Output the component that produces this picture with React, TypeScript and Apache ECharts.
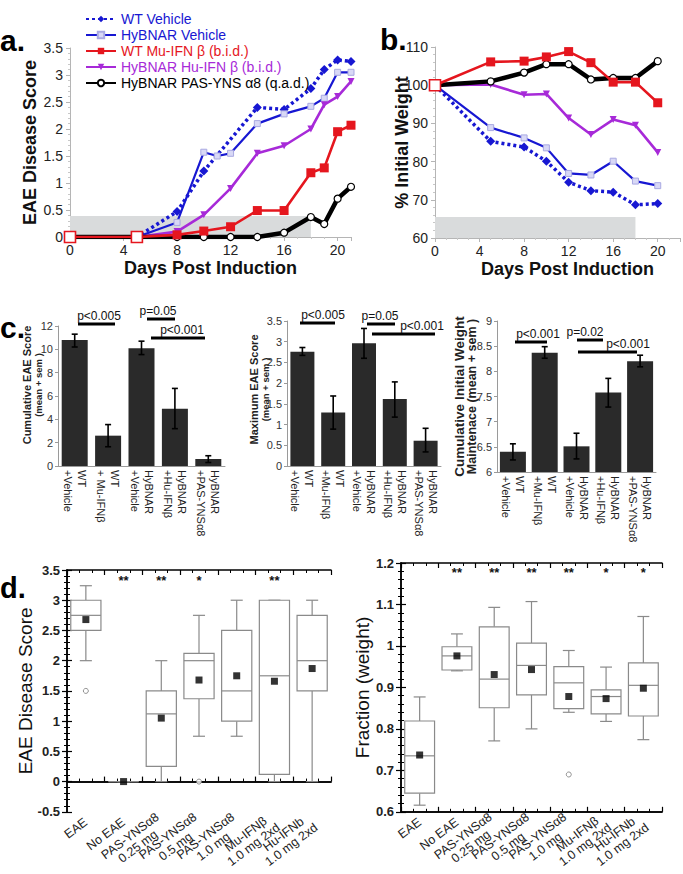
import React, { useEffect, useRef } from 'react';
import * as echarts from 'echarts';

const FONT = '"Liberation Sans", Arial, Helvetica, sans-serif';
const BLUE = '#1717d2';
const RED = '#e5161e';
const PURPLE = '#a72ad8';
const BAR = '#2a2a2a';

// ---------- Panel a: EAE disease score ----------
const legendNames = [
  'WT Vehicle',
  'HyBNAR Vehicle',
  'WT Mu-IFN β (b.i.d.)',
  'HyBNAR Hu-IFN β (b.i.d.)',
  'HyBNAR PAS-YNS α8 (q.a.d.)',
];
const aWTVehicle = [[0, 0], [5, 0], [8, 0.47], [10, 1.22], [14, 2.4], [16, 2.36], [18, 2.75], [19, 3.1], [20, 3.28], [21, 3.25]];
const aHyVehicle = [[0, 0], [5, 0], [8, 0.27], [10, 1.57], [11, 1.5], [12, 1.55], [14, 2.1], [16, 2.28], [18, 2.42], [19, 2.57], [20, 3.05], [21, 3.05]];
const aWTMu = [[0, 0], [5, 0], [8, 0.04], [10, 0.11], [12, 0.19], [14, 0.49], [16, 0.49], [18, 1.19], [19, 1.28], [20, 1.95], [21, 2.07]];
const aHyHu = [[0, 0], [5, 0], [8, 0.1], [10, 0.41], [12, 0.9], [14, 1.55], [16, 1.69], [18, 2.0], [19, 2.45], [20, 2.6], [21, 2.88]];
const aPAS = [[0, 0], [5, 0], [8, 0], [10, 0], [12, 0], [14, 0], [16, 0.08], [18, 0.37], [19, 0.24], [20, 0.71], [21, 0.93]];
const aShade = [[0, 0], [18, 0.39]];

// ---------- Panel b: % initial weight ----------
const bDays = [0, 5, 8, 10, 12, 14, 16, 18, 20];
const bWTVehicle = [100, 85.3, 83.8, 80.1, 74.6, 72.4, 72.0, 68.7, 69.0];
const bHyVehicle = [100, 88.9, 86.2, 83.6, 76.9, 76.5, 80.1, 74.9, 73.7];
const bWTMu = [100, 106.1, 106.3, 107.4, 108.8, 105.9, 100.8, 100.8, 95.4];
const bHyHu = [100, 100.2, 97.5, 97.7, 91.4, 87.1, 91.0, 89.5, 82.4];
const bPAS = [100, 101.0, 103.3, 105.5, 105.5, 101.5, 101.9, 101.9, 106.3];
const bShade = [[0, 60], [18, 65.5]];

// ---------- Panel c: bar charts ----------
const cCatsL = ['WT\n+Vehicle', 'WT\n+ Mu-IFNβ', 'HyBNAR\n+Vehicle', 'HyBNAR\n+Hu-IFNβ', 'HyBNAR\n+PAS-YNSα8'];
const cCatsR = ['WT\n+Vehicle', 'WT\n+Mu-IFNβ', 'HyBNAR\n+Vehicle', 'HyBNAR\n+Hu-IFNβ', 'HyBNAR\n+PAS-YNSα8'];
const cCumMean = [10.8, 2.6, 10.1, 4.9, 0.6];
const cCumLow = [10.2, 1.65, 9.55, 3.2, 0.3];
const cCumHigh = [11.3, 3.55, 10.7, 6.65, 0.88];
const cMaxMean = [2.76, 1.29, 2.96, 1.62, 0.61];
const cMaxLow = [2.67, 0.89, 2.6, 1.18, 0.34];
const cMaxHigh = [2.86, 1.69, 3.32, 2.03, 0.91];
const cWtMean = [6.4, 8.37, 6.51, 7.58, 8.2];
const cWtLow = [6.24, 8.26, 6.26, 7.29, 8.09];
const cWtHigh = [6.56, 8.49, 6.77, 7.86, 8.32];

// ---------- Panel d: box plots ----------
const dCats = ['EAE', 'No EAE', 'PAS-YNSα8\n0.25 mg', 'PAS-YNSα8\n0.5 mg', 'PAS-YNSα8\n1.0 mg', 'Mu-IFNβ\n1.0 mg 2xd', 'Hu-IFNb\n1.0 mg 2xd'];
// [low whisker, Q1, median, Q3, high whisker]
const dScoreBox = [
  [2.0, 2.5, 2.75, 3.0, 3.24],
  [0, 0, 0, 0, 0],
  [0, 0.25, 1.12, 1.5, 2.0],
  [0.75, 1.37, 2.0, 2.12, 2.75],
  [0.75, 1.0, 1.5, 2.5, 3.0],
  [0, 0.12, 1.75, 3.0, 3.0],
  [0, 1.5, 2.0, 2.75, 3.0],
];
const dScoreMean = [2.68, 0, 1.05, 1.68, 1.75, 1.66, 1.87];
const dScoreOutliers = [[0, 1.5], [3, 0]];
const dScoreStars = ['', '**', '**', '*', '', '**', ''];
const dWeightBox = [
  [0.616, 0.645, 0.735, 0.819, 0.877],
  [0.94, 0.942, 0.976, 0.998, 1.029],
  [0.771, 0.851, 0.92, 1.046, 1.093],
  [0.8, 0.882, 0.953, 1.007, 1.107],
  [0.84, 0.849, 0.911, 0.95, 0.989],
  [0.818, 0.836, 0.878, 0.894, 0.949],
  [0.774, 0.831, 0.905, 0.959, 1.071],
];
const dWeightMean = [0.737, 0.976, 0.931, 0.943, 0.878, 0.873, 0.898];
const dWeightOutliers = [[4, 0.69]];
const dWeightStars = ['', '**', '**', '**', '**', '*', '*'];

// ---------- helpers ----------
const styles = [
  { symbol: 'diamond', symbolSize: 9, line: { color: BLUE, width: 3.5, type: [3, 3] }, item: { color: BLUE }, z: 3 },
  { symbol: 'rect', symbolSize: 6, line: { color: BLUE, width: 2.2, type: 'solid' }, item: { color: '#d8d8f6', borderColor: '#a9a9e2', borderWidth: 1 }, z: 3 },
  { symbol: 'rect', symbolSize: 9, line: { color: RED, width: 2.6, type: 'solid' }, item: { color: RED }, z: 6 },
  { symbol: 'triangle', symbolSize: 7, symbolRotate: 180, line: { color: PURPLE, width: 2.6, type: 'solid' }, item: { color: PURPLE }, z: 3 },
  { symbol: 'circle', symbolSize: 7, line: { color: '#000', width: 4.5, type: 'solid' }, item: { color: '#fff', borderColor: '#000', borderWidth: 1.2 }, z: 4 },
];

const openRed = { symbolSize: 11, itemStyle: { color: '#fff', borderColor: RED, borderWidth: 1.6 } };

function lineSeries(idx: number, data: any[], axis: number, openCount: number) {
  const s = styles[idx];
  const d = data.map((p, i) => (idx === 2 && i < openCount ? { value: p, ...openRed } : p));
  return {
    type: 'line',
    name: legendNames[idx],
    xAxisIndex: axis,
    yAxisIndex: axis,
    data: d,
    symbol: s.symbol,
    symbolSize: s.symbolSize,
    symbolRotate: (s as any).symbolRotate || 0,
    showAllSymbol: true,
    lineStyle: s.line,
    itemStyle: s.item,
    z: s.z,
    color: s.line.color,
  };
}

function shadeSeries(pts: number[][], axis: number) {
  return {
    type: 'line',
    xAxisIndex: axis,
    yAxisIndex: axis,
    data: pts,
    symbol: 'none',
    lineStyle: { opacity: 0 },
    silent: true,
    z: 1,
    markArea: {
      silent: true,
      itemStyle: { color: '#d9dbdc' },
      data: [[{ coord: pts[0] }, { coord: pts[1] }]],
    },
  };
}

const grayAxisLine = { show: true, lineStyle: { color: '#b5b5b5', width: 1 } };
const grayTick = { show: true, length: 4, lineStyle: { color: '#b5b5b5' } };

function lineXAxis(grid: number, max: number, nameExtra: any) {
  return {
    type: 'value', gridIndex: grid, min: 0, max, interval: 4,
    axisLine: grayAxisLine, axisTick: grayTick,
    minorTick: { show: true, splitNumber: 4, length: 2, lineStyle: { color: '#c8c8c8' } },
    splitLine: { show: false },
    axisLabel: { color: '#222', fontSize: 14, fontFamily: FONT, margin: 6, formatter: (v: number) => (v % 4 === 0 ? String(v) : '') },
    name: 'Days Post Induction', nameLocation: 'middle', nameGap: 22, nameMoveOverlap: false,
    nameTextStyle: { fontSize: 18, fontWeight: 'bold', color: '#111', fontFamily: FONT, ...nameExtra },
  };
}

function lineYAxis(grid: number, min: number, max: number, interval: number, name: string, gap: number) {
  return {
    type: 'value', gridIndex: grid, min, max, interval,
    axisLine: grayAxisLine, axisTick: grayTick,
    minorTick: { show: true, splitNumber: 5, length: 2, lineStyle: { color: '#c8c8c8' } },
    splitLine: { show: false },
    axisLabel: { color: '#222', fontSize: 14, fontFamily: FONT, margin: 7 },
    name, nameLocation: 'middle', nameGap: gap, nameRotate: 90, nameMoveOverlap: false,
    nameTextStyle: { fontSize: 18, fontWeight: 'bold', color: '#111', fontFamily: FONT },
  };
}

function barXAxis(grid: number, cats: string[]) {
  return {
    type: 'category', gridIndex: grid, data: cats,
    axisLine: { show: true, lineStyle: { color: '#9a9a9a' } },
    axisTick: { show: false },
    axisLabel: { rotate: -90, fontSize: 11, lineHeight: 14, color: '#222', fontFamily: FONT, margin: 4, interval: 0 },
  };
}

function barYAxis(grid: number, min: number, max: number, interval: number, line1: string, line2: string, s1: number, s2: number, lh1: number, lh2: number, gap: number, shift: number) {
  return {
    type: 'value', gridIndex: grid, min, max, interval,
    axisLine: { show: true, lineStyle: { color: '#9a9a9a' } },
    axisTick: { show: true, length: 3, lineStyle: { color: '#9a9a9a' } },
    splitLine: { show: false },
    axisLabel: { fontSize: 11, color: '#333', fontFamily: FONT, margin: 5 },
    name: `{a|${line1}}\n{b|${line2}}`, nameLocation: 'middle', nameGap: gap, nameRotate: 90, nameMoveOverlap: false,
    nameTextStyle: {
      padding: [0, 0, 0, shift],
      rich: {
        a: { fontSize: s1, fontWeight: 'bold', color: '#222', fontFamily: FONT, lineHeight: lh1 },
        b: { fontSize: s2, fontWeight: 'bold', color: '#222', fontFamily: FONT, lineHeight: lh2 },
      },
    },
  };
}

const errRender = (params: any, api: any) => {
  const x = api.value(0);
  const lo = api.coord([x, api.value(1)]);
  const hi = api.coord([x, api.value(2)]);
  const hw = 3;
  const st = { stroke: '#000', lineWidth: 1.6 };
  return {
    type: 'group',
    children: [
      { type: 'line', shape: { x1: lo[0], y1: lo[1], x2: hi[0], y2: hi[1] }, style: st },
      { type: 'line', shape: { x1: lo[0] - hw, y1: lo[1], x2: lo[0] + hw, y2: lo[1] }, style: st },
      { type: 'line', shape: { x1: hi[0] - hw, y1: hi[1], x2: hi[0] + hw, y2: hi[1] }, style: st },
    ],
  };
};

function barSeries(axis: number, mean: number[], low: number[], high: number[], width: number) {
  return [
    { type: 'bar', xAxisIndex: axis, yAxisIndex: axis, data: mean, barWidth: width, itemStyle: { color: BAR }, z: 2 },
    {
      type: 'custom', xAxisIndex: axis, yAxisIndex: axis, renderItem: errRender, z: 3,
      encode: { x: 0, y: [1, 2] },
      data: mean.map((_, i) => [i, low[i], high[i]]),
    },
  ];
}

const boxRender = (params: any, api: any) => {
  const c = api.value(0);
  const vals = [1, 2, 3, 4, 5].map((i) => api.value(i));
  const w = api.size([1, 0])[0];
  const hb = w * 0.4;
  const hc = w * 0.16;
  const p = vals.map((v) => api.coord([c, v]));
  const x = p[0][0];
  const st = { stroke: '#8a8a8a', lineWidth: 1.2, fill: 'none' };
  return {
    type: 'group',
    children: [
      { type: 'line', shape: { x1: x, y1: p[0][1], x2: x, y2: p[1][1] }, style: st },
      { type: 'line', shape: { x1: x, y1: p[3][1], x2: x, y2: p[4][1] }, style: st },
      { type: 'line', shape: { x1: x - hc, y1: p[0][1], x2: x + hc, y2: p[0][1] }, style: st },
      { type: 'line', shape: { x1: x - hc, y1: p[4][1], x2: x + hc, y2: p[4][1] }, style: st },
      { type: 'rect', shape: { x: x - hb, y: p[3][1], width: 2 * hb, height: Math.max(p[1][1] - p[3][1], 0) }, style: { stroke: '#8a8a8a', lineWidth: 1.2, fill: '#fff' } },
      { type: 'line', shape: { x1: x - hb, y1: p[2][1], x2: x + hb, y2: p[2][1] }, style: st },
    ],
  };
};

function boxSeries(xAxis: number, yAxis: number, box: number[][], mean: number[], outliers: number[][], stars: string[], starY: number) {
  return [
    {
      type: 'custom', xAxisIndex: xAxis, yAxisIndex: yAxis, renderItem: boxRender, z: 2,
      encode: { x: 0, y: [1, 2, 3, 4, 5] },
      data: box.map((b, i) => [i, ...b]),
    },
    {
      type: 'scatter', xAxisIndex: xAxis, yAxisIndex: yAxis, symbol: 'rect', symbolSize: 7, z: 4,
      itemStyle: { color: '#000' }, data: mean.map((v, i) => [i, v]),
    },
    {
      type: 'scatter', xAxisIndex: xAxis, yAxisIndex: yAxis, symbol: 'circle', symbolSize: 5, z: 4,
      itemStyle: { color: '#fff', borderColor: '#777', borderWidth: 1 }, data: outliers,
    },
    {
      type: 'custom', xAxisIndex: xAxis, yAxisIndex: yAxis, z: 5,
      encode: { x: 0, y: 1 },
      data: stars.map((_, i) => [i, starY]),
      renderItem: (params: any, api: any) => {
        const p = api.coord([api.value(0), api.value(1)]);
        return {
          type: 'text', x: p[0], y: p[1],
          style: { text: stars[params.dataIndex], textAlign: 'center', textVerticalAlign: 'middle', align: 'center', verticalAlign: 'middle', font: `bold 13px ${FONT}`, fill: '#111' },
        };
      },
    },
  ];
}

function boxCatAxis(grid: number) {
  return {
    type: 'category', gridIndex: grid, data: dCats, position: 'bottom',
    axisLine: { show: true, lineStyle: { color: '#000', width: 1.5 } },
    axisTick: { show: false },
    axisLabel: {
      rotate: 37, color: '#222', fontFamily: FONT, fontSize: 12.5, margin: 9, interval: 0,
      formatter: (v: string) => v.split('\n').map((s) => `{c|${s}}`).join('\n'),
      rich: { c: { align: 'center', fontSize: 12.5, lineHeight: 13, color: '#222', fontFamily: FONT } },
    },
  };
}

function boxTickXAxis(grid: number, pos: string) {
  return {
    type: 'value', gridIndex: grid, position: pos, min: 0, max: 7, interval: 1,
    axisLine: { show: true, lineStyle: { color: '#000', width: 1.5 } },
    axisTick: { show: true, inside: true, length: 5, lineStyle: { color: '#000', width: 1.2 } },
    minorTick: { show: true, splitNumber: 3, length: 3, lineStyle: { color: '#000', width: 1 } },
    axisLabel: { show: false },
    splitLine: { show: false },
  };
}

function boxYAxis(grid: number, min: number, max: number, interval: number, pos: string, name: string, gap: number) {
  const left = pos === 'left';
  return {
    type: 'value', gridIndex: grid, position: pos, min, max, interval,
    axisLine: { show: true, lineStyle: { color: '#000', width: 1.5 } },
    axisTick: { show: true, inside: true, length: 5, lineStyle: { color: '#000', width: 1.2 } },
    minorTick: { show: true, splitNumber: 5, length: 3, lineStyle: { color: '#000', width: 1 } },
    splitLine: { show: false },
    axisLabel: { show: left, fontSize: 13, fontWeight: 'bold', color: '#222', fontFamily: FONT, margin: 7 },
    name: left ? name : '', nameLocation: 'middle', nameGap: gap, nameRotate: 90, nameMoveOverlap: false,
    nameTextStyle: { fontSize: 19, color: '#111', fontFamily: FONT },
  };
}

function panelLabel(text: string, x: number, y: number, size: number) {
  return {
    type: 'text', x, y,
    style: { text, font: `bold ${size}px ${FONT}`, fill: '#000', textVerticalAlign: 'alphabetic', verticalAlign: 'alphabetic' },
  };
}

function pBar(text: string, x1: number, x2: number, y: number, tx: number) {
  return [
    { type: 'line', shape: { x1, y1: y, x2, y2: y }, style: { stroke: '#000', lineWidth: 3 } },
    {
      type: 'text', x: tx, y: y - 2,
      style: { text, font: `12px ${FONT}`, fill: '#111', textAlign: 'center', align: 'center', textVerticalAlign: 'bottom', verticalAlign: 'bottom' },
    },
  ];
}

function buildOption() {
  const legendColors = [BLUE, BLUE, RED, PURPLE, '#000'];
  return {
    animation: false,
    textStyle: { fontFamily: FONT },
    grid: [
      { left: 70, top: 48, width: 281, height: 189 },
      { left: 435, top: 47, width: 247.5, height: 191 },
      { left: 58, top: 326, width: 167, height: 140 },
      { left: 287, top: 321, width: 154, height: 145 },
      { left: 497, top: 321, width: 159, height: 151 },
      { left: 67, top: 570, width: 264, height: 246 },
      { left: 401, top: 563, width: 261, height: 251 },
    ],
    legend: {
      orient: 'vertical', left: 80, top: 7, itemWidth: 30, itemHeight: 8, itemGap: 2,
      selectedMode: false,
      data: legendNames.map((n, i) => ({ name: n, textStyle: { color: legendColors[i], fontSize: 14, fontFamily: FONT } })),
    },
    xAxis: [
      lineXAxis(0, 21, {}),
      lineXAxis(1, 22, { padding: [0, 0, 0, 20] }),
      barXAxis(2, cCatsL),
      barXAxis(3, cCatsR),
      barXAxis(4, cCatsR),
      boxCatAxis(5),
      boxTickXAxis(5, 'bottom'),
      boxTickXAxis(5, 'top'),
      boxCatAxis(6),
      boxTickXAxis(6, 'bottom'),
      boxTickXAxis(6, 'top'),
    ],
    yAxis: [
      lineYAxis(0, 0, 3.5, 0.5, 'EAE Disease Score', 31),
      lineYAxis(1, 60, 110, 10, '% Initial Weight', 24),
      barYAxis(2, 0, 12, 2, 'Cumulative EAE Score', '(mean + sem )', 11, 9.5, 12, 11, 14, 22),
      barYAxis(3, 0, 3.5, 0.5, 'Maximum EAE Score', '(mean + sem )', 11, 9.5, 12, 11, 16, 8),
      barYAxis(4, 6, 9, 0.5, 'Cumulative Initial Weight', 'Maintenace (mean + sem )', 13.5, 12.5, 13, 12, 19, 0),
      boxYAxis(5, -0.5, 3.5, 0.5, 'left', 'EAE Disease Score', 32),
      boxYAxis(5, -0.5, 3.5, 0.5, 'right', '', 0),
      boxYAxis(6, 0.6, 1.2, 0.1, 'left', 'Fraction (weight)', 29),
      boxYAxis(6, 0.6, 1.2, 0.1, 'right', '', 0),
    ],
    series: [
      shadeSeries(aShade, 0),
      lineSeries(0, aWTVehicle, 0, 0),
      lineSeries(1, aHyVehicle, 0, 0),
      lineSeries(3, aHyHu, 0, 0),
      lineSeries(4, aPAS, 0, 0),
      lineSeries(2, aWTMu, 0, 2),
      shadeSeries(bShade, 1),
      lineSeries(0, bDays.map((d, i) => [d, bWTVehicle[i]]), 1, 0),
      lineSeries(1, bDays.map((d, i) => [d, bHyVehicle[i]]), 1, 0),
      lineSeries(3, bDays.map((d, i) => [d, bHyHu[i]]), 1, 0),
      lineSeries(4, bDays.map((d, i) => [d, bPAS[i]]), 1, 0),
      lineSeries(2, bDays.map((d, i) => [d, bWTMu[i]]), 1, 1),
      ...barSeries(2, cCumMean, cCumLow, cCumHigh, 26),
      ...barSeries(3, cMaxMean, cMaxLow, cMaxHigh, 24),
      ...barSeries(4, cWtMean, cWtLow, cWtHigh, 26),
      ...boxSeries(5, 5, dScoreBox, dScoreMean, dScoreOutliers, dScoreStars, 3.33),
      ...boxSeries(8, 7, dWeightBox, dWeightMean, dWeightOutliers, dWeightStars, 1.178),
    ],
    graphic: [
      panelLabel('a.', 0, 25, 30),
      panelLabel('b.', 380, 24, 30),
      panelLabel('c.', 0, 312, 30),
      panelLabel('d.', 0, 573, 29),
      ...pBar('p<0.005', 78, 115, 324, 99),
      ...pBar('p=0.05', 147, 175, 319, 158),
      ...pBar('p<0.001', 151, 205, 338, 182),
      ...pBar('p<0.005', 300, 335, 323, 323),
      ...pBar('p=0.05', 367, 395, 324, 380),
      ...pBar('p<0.001', 372, 435, 334, 422),
      ...pBar('p<0.001', 515, 547, 342, 538),
      ...pBar('p=0.02', 577, 603, 340, 585),
      ...pBar('p<0.001', 578, 637, 352, 628),
    ],
  };
}

export default function App() {
  const ref = useRef<HTMLDivElement>(null);
  useEffect(() => {
    const chart = echarts.init(ref.current as HTMLDivElement, null, { renderer: 'svg' });
    chart.setOption(buildOption() as any);
    return () => chart.dispose();
  }, []);
  return (
    <div
      ref={ref}
      style={{ position: 'absolute', left: 0, top: 0, width: 683, height: 874, background: '#fff' }}
    />
  );
}
